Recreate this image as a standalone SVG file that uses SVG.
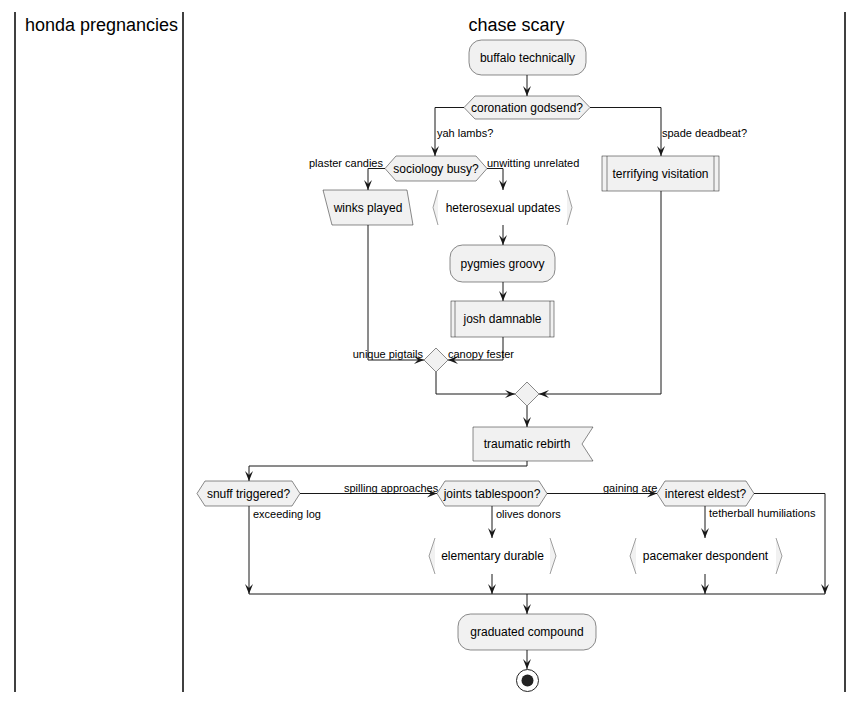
<svg xmlns="http://www.w3.org/2000/svg" width="863" height="702" viewBox="0 0 863 702">
<defs>
<style>
.lane{stroke:#000;stroke-width:1.5;fill:none}
.title{font-family:"Liberation Sans",Arial,sans-serif;font-size:18px;fill:#000;text-anchor:middle}
.node{fill:#F1F1F1;stroke:#181818;stroke-width:0.5}
.brk{fill:#F1F1F1;stroke:none}
.brkl{fill:none;stroke:#888;stroke-width:0.8}
.t{font-family:"Liberation Sans",Arial,sans-serif;font-size:12px;fill:#000;text-anchor:middle}
.lbl{font-family:"Liberation Sans",Arial,sans-serif;font-size:11px;fill:#000}
.e{fill:none;stroke:#181818;stroke-width:1}
.a{marker-end:url(#ah)}
</style>
<marker id="ah" markerUnits="userSpaceOnUse" markerWidth="10" markerHeight="10" refX="10" refY="4" orient="auto" viewBox="0 0 10 8">
<path d="M0,0 L10,4 L0,8 L4,4 Z" fill="#181818"/>
</marker>
</defs>
<rect width="863" height="702" fill="#fff"/>
<g id="lanes">
<line class="lane" x1="15" y1="12" x2="15" y2="692"/>
<line class="lane" x1="183" y1="12" x2="183" y2="692"/>
<line class="lane" x1="845" y1="12" x2="845" y2="692"/>
<text class="title" x="101.5" y="31">honda pregnancies</text>
<text class="title" x="516.5" y="31">chase scary</text>
</g>
<g id="connectors">
<path class="e a" d="M527,75 L527,96"/>
<path class="e a" d="M464,107.5 L435,107.5 L435,156"/>
<path class="e a" d="M590,107.5 L661,107.5 L661,156"/>
<path class="e a" d="M385,168.5 L368,168.5 L368,190"/>
<path class="e a" d="M487,168.5 L503,168.5 L503,190"/>
<path class="e a" d="M503,225 L503,245"/>
<path class="e a" d="M503,282 L503,301"/>
<path class="e a" d="M368,225 L368,360 L424,360"/>
<path class="e a" d="M503,337 L503,360 L448,360"/>
<path class="e a" d="M436,372 L436,394 L515,394"/>
<path class="e a" d="M661,191 L661,394 L539,394"/>
<path class="e a" d="M527,406 L527,427"/>
<path class="e a" d="M527,461 L527,466 L249,466 L249,481"/>
<path class="e a" d="M300,493.5 L437,493.5"/>
<path class="e a" d="M249,506 L249,594"/>
<path class="e a" d="M492,506 L492,538"/>
<path class="e a" d="M492,574 L492,594"/>
<path class="e a" d="M547,493.5 L657,493.5"/>
<path class="e a" d="M705,506 L705,538"/>
<path class="e a" d="M705,574 L705,594"/>
<path class="e a" d="M754,493.5 L825,493.5 L825,594"/>
<path class="e" d="M249,594 L825,594"/>
<path class="e a" d="M527,594 L527,614"/>
<path class="e a" d="M527,650 L527,669"/>
<text class="lbl" x="437" y="137">yah lambs?</text>
<text class="lbl" x="662" y="137">spade deadbeat?</text>
<text class="lbl" x="383" y="166.5" text-anchor="end">plaster candies</text>
<text class="lbl" x="487" y="166.5">unwitting unrelated</text>
<text class="lbl" x="423" y="358" text-anchor="end">unique pigtails</text>
<text class="lbl" x="448" y="358">canopy fester</text>
<text class="lbl" x="344" y="492">spilling approaches</text>
<text class="lbl" x="253" y="518">exceeding log</text>
<text class="lbl" x="496" y="518">olives donors</text>
<text class="lbl" x="603" y="492">gaining are</text>
<text class="lbl" x="709" y="517">tetherball humiliations</text>
</g>
<g id="buffalo">
<rect class="node" x="469" y="40" width="117" height="35" rx="12.5"/>
<text class="t" x="527.5" y="62">buffalo technically</text>
</g>
<g id="coronation">
<polygon class="node" points="464,107.5 475,96 579,96 590,107.5 579,119 475,119"/>
<text class="t" x="527" y="111.5">coronation godsend?</text>
</g>
<g id="sociology">
<polygon class="node" points="385,168.5 396,156 476,156 487,168.5 476,181 396,181"/>
<text class="t" x="436" y="172.5">sociology busy?</text>
</g>
<g id="winks">
<polygon class="node" points="323,190 407,190 413,225 332,225"/>
<text class="t" x="368" y="211.5">winks played</text>
</g>
<g id="heterosexual">
<polygon class="brk" points="438,190 433,207.5 438,225"/>
<polyline class="brkl" points="438,190 433,207.5 438,225"/>
<polygon class="brk" points="567,190 572,207.5 567,225"/>
<polyline class="brkl" points="567,190 572,207.5 567,225"/>
<text class="t" x="503" y="211.5">heterosexual updates</text>
</g>
<g id="pygmies">
<rect class="node" x="450" y="245" width="105" height="37" rx="12.5"/>
<text class="t" x="502.5" y="267.5">pygmies groovy</text>
</g>
<g id="josh">
<rect class="node" x="451" y="301" width="103" height="36"/>
<line class="node" x1="455" y1="301" x2="455" y2="337"/>
<line class="node" x1="550" y1="301" x2="550" y2="337"/>
<text class="t" x="502.5" y="323">josh damnable</text>
</g>
<g id="terrifying">
<rect class="node" x="602" y="156" width="117" height="35"/>
<line class="node" x1="607" y1="156" x2="607" y2="191"/>
<line class="node" x1="714" y1="156" x2="714" y2="191"/>
<text class="t" x="660.5" y="177.5">terrifying visitation</text>
</g>
<g id="merge1">
<polygon class="node" points="436,348 448,360 436,372 424,360"/>
</g>
<g id="merge2">
<polygon class="node" points="527,382 539,394 527,406 515,394"/>
</g>
<g id="traumatic">
<polygon class="node" points="473,427 593,427 582,444 593,461 473,461"/>
<text class="t" x="527" y="448">traumatic rebirth</text>
</g>
<g id="snuff">
<polygon class="node" points="197,493.5 205,481 292,481 300,493.5 292,506 205,506"/>
<text class="t" x="248.5" y="497.5">snuff triggered?</text>
</g>
<g id="joints">
<polygon class="node" points="437,493.5 445,481 539,481 547,493.5 539,506 445,506"/>
<text class="t" x="492" y="497.5">joints tablespoon?</text>
</g>
<g id="interest">
<polygon class="node" points="657,493.5 665,481 746,481 754,493.5 746,506 665,506"/>
<text class="t" x="705.5" y="497.5">interest eldest?</text>
</g>
<g id="elementary">
<polygon class="brk" points="435,538 429,556 435,574"/>
<polyline class="brkl" points="435,538 429,556 435,574"/>
<polygon class="brk" points="550,538 556,556 550,574"/>
<polyline class="brkl" points="550,538 556,556 550,574"/>
<text class="t" x="492.5" y="560">elementary durable</text>
</g>
<g id="pacemaker">
<polygon class="brk" points="636,538 630,556 636,574"/>
<polyline class="brkl" points="636,538 630,556 636,574"/>
<polygon class="brk" points="776,538 782,556 776,574"/>
<polyline class="brkl" points="776,538 782,556 776,574"/>
<text class="t" x="705.5" y="560">pacemaker despondent</text>
</g>
<g id="graduated">
<rect class="node" x="458" y="614" width="138" height="36" rx="12.5"/>
<text class="t" x="527" y="636">graduated compound</text>
</g>
<g id="end">
<circle cx="527.5" cy="680.5" r="11" fill="none" stroke="#222" stroke-width="1"/>
<circle cx="527.5" cy="680.5" r="6" fill="#222"/>
</g>
</svg>
